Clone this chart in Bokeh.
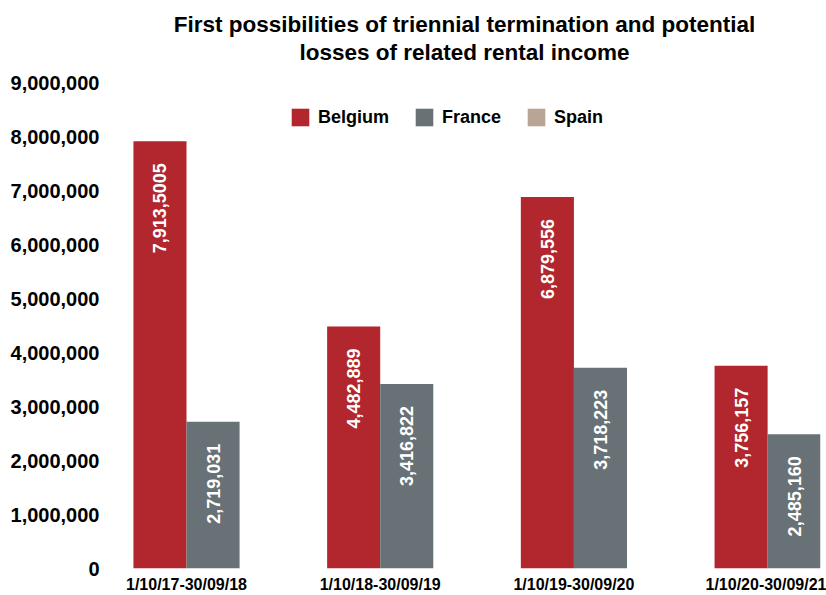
import math
from bokeh.plotting import figure
from bokeh.models import (ColumnDataSource, FixedTicker, NumeralTickFormatter, Range1d,
                          Title, Legend, LegendItem)
from bokeh.transform import dodge
from bokeh.core.properties import value
from bokeh.embed import file_html
from bokeh.resources import INLINE

periods = ["1/10/17-30/09/18", "1/10/18-30/09/19", "1/10/19-30/09/20", "1/10/20-30/09/21"]
belgium = [7913500, 4482889, 6879556, 3756157]
france = [2719031, 3416822, 3718223, 2485160]
spain = [0, 0, 0, 0]
belgium_labels = ["7,913,5005", "4,482,889", "6,879,556", "3,756,157"]
france_labels = ["2,719,031", "3,416,822", "3,718,223", "2,485,160"]
y_ticks = [0, 1000000, 2000000, 3000000, 4000000, 5000000, 6000000, 7000000, 8000000, 9000000]
title_lines = ["First possibilities of triennial termination and potential",
               "losses of related rental income"]

FONT = "Liberation Sans"
RED = "#b2262e"
GREY = "#687276"
BEIGE = "#b8a596"

idx = list(range(len(periods)))
src = ColumnDataSource(dict(idx=idx, belgium=belgium, france=france, spain=spain,
                            bl=belgium_labels, fl=france_labels))

p = figure(width=826, height=595, output_backend="svg", toolbar_location=None,
           x_range=Range1d(-0.4027, 3.273), y_range=Range1d(0, 9000000),
           min_border_left=108, min_border_right=6, min_border_top=82, min_border_bottom=26)
p.outline_line_color = None
p.xgrid.visible = False
p.ygrid.visible = False
p.background_fill_color = "white"
p.border_fill_color = "white"

W = 0.274
rb = p.vbar(x=dodge("idx", -W / 2, range=p.x_range), top="belgium", width=W, source=src,
            fill_color=RED, line_color=None)
rf = p.vbar(x=dodge("idx", W / 2, range=p.x_range), top="france", width=W, source=src,
            fill_color=GREY, line_color=None)
rs = p.vbar(x="idx", top="spain", width=W, source=src, fill_color=BEIGE, line_color=None)

for col, lab, off in (("belgium", "bl", -W / 2), ("france", "fl", W / 2)):
    p.text(x=dodge("idx", off, range=p.x_range), y=col, text=lab, source=src,
           angle=math.pi / 2, text_align="right", text_baseline="middle",
           y_offset=22, text_color="white", text_font=value(FONT),
           text_font_style="bold", text_font_size="18px")

# axes
p.xaxis.ticker = FixedTicker(ticks=idx)
p.xaxis.major_label_overrides = {i: s for i, s in enumerate(periods)}
p.xaxis.axis_line_color = None
p.xaxis.major_tick_line_color = None
p.xaxis.minor_tick_line_color = None
p.xaxis.major_tick_out = 0
p.xaxis.major_label_standoff = 7
p.xaxis.major_label_text_font = FONT
p.xaxis.major_label_text_font_style = "bold"
p.xaxis.major_label_text_font_size = "16px"
p.xaxis.major_label_text_color = "black"

p.yaxis.ticker = FixedTicker(ticks=y_ticks)
p.yaxis.formatter = NumeralTickFormatter(format="0,0")
p.yaxis.axis_line_color = None
p.yaxis.major_tick_line_color = None
p.yaxis.minor_tick_line_color = None
p.yaxis.major_tick_out = 0
p.yaxis.major_label_standoff = 9
p.yaxis.major_label_text_font = FONT
p.yaxis.major_label_text_font_style = "bold"
p.yaxis.major_label_text_font_size = "20px"
p.yaxis.major_label_text_color = "black"

# spacer between frame and title
p.add_layout(Title(text=" ", text_font_size="10px", standoff=4), "above")
# title: second line added first (closest to the frame)
for line, so in ((title_lines[1], 2), (title_lines[0], 0)):
    p.add_layout(Title(text=line, align="center", text_font=FONT, text_font_style="bold",
                       text_font_size="22.5px", text_color="black", standoff=so), "above")

legend = Legend(items=[LegendItem(label="Belgium", renderers=[rb]),
                       LegendItem(label="France", renderers=[rf]),
                       LegendItem(label="Spain", renderers=[rs])],
                orientation="horizontal", location=(181, 440),
                glyph_width=22, glyph_height=22, label_standoff=7, spacing=24,
                padding=0, margin=0, border_line_color=None, background_fill_alpha=0,
                label_text_font=FONT, label_text_font_style="bold", label_text_font_size="18px",
                label_text_color="black")
p.add_layout(legend, "center")

open("out.html", "w").write(file_html(p, INLINE))
